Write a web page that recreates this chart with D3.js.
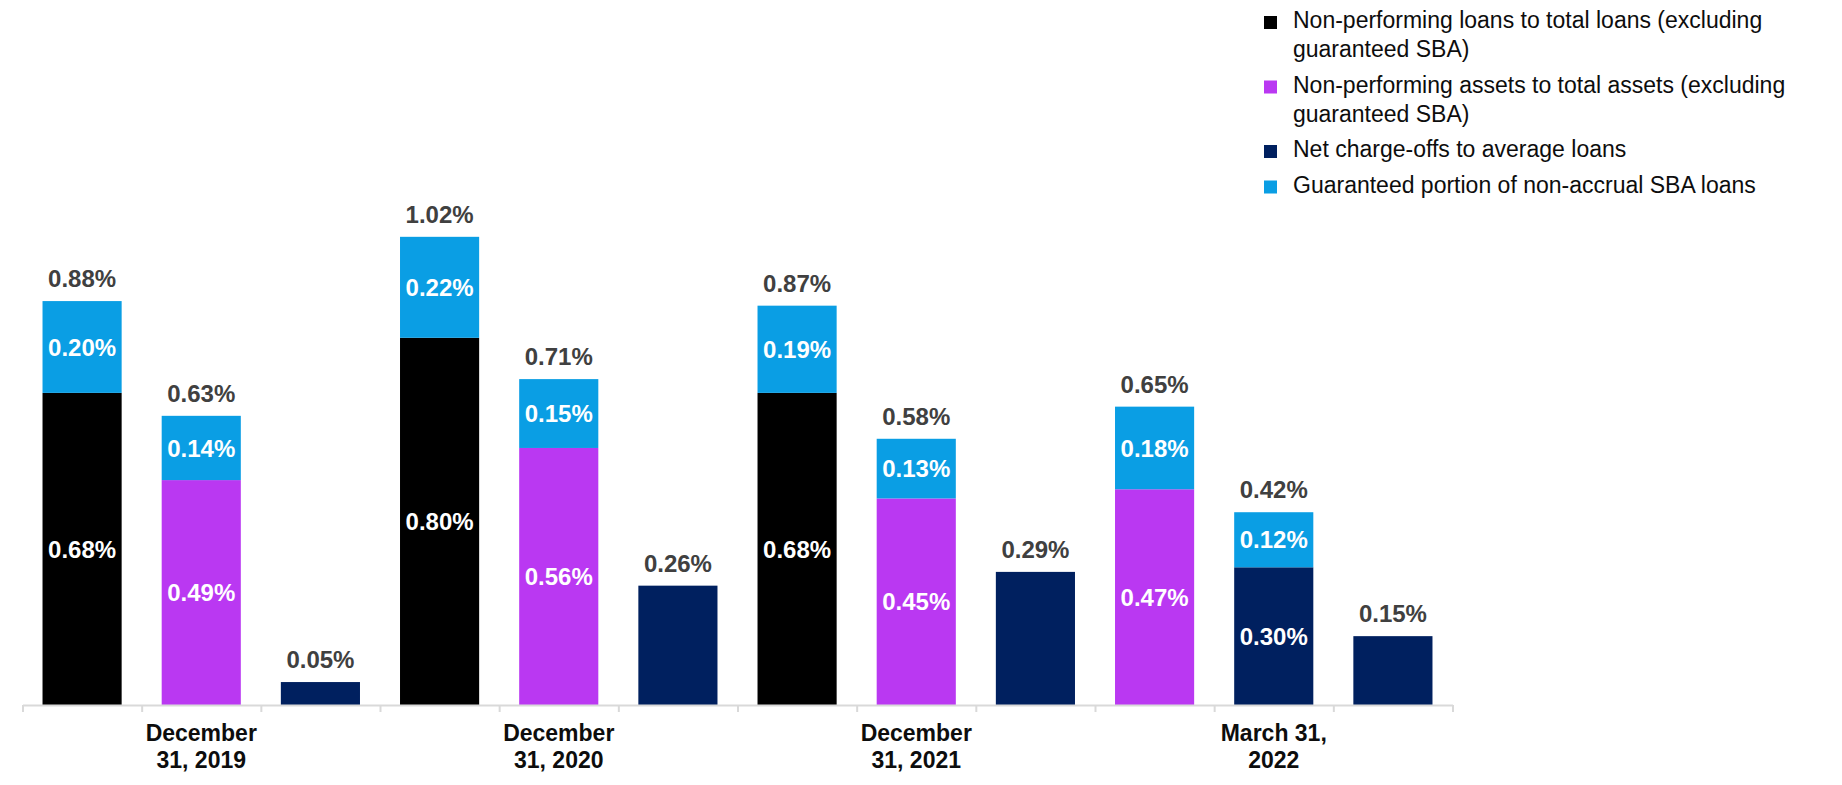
<!DOCTYPE html>
<html>
<head>
<meta charset="utf-8">
<script src="https://cdn.jsdelivr.net/npm/d3@7"></script>
<style>
  html, body { margin: 0; padding: 0; background: #ffffff; }
  svg { display: block; font-family: "Liberation Sans", Arial, Helvetica, sans-serif; }
</style>
</head>
<body>
<svg id="chart" width="1842" height="785"></svg>
<script>
// ---- data ----
const seriesNames = [
  "Non-performing loans to total loans (excluding\nguaranteed SBA)",
  "Non-performing assets to total assets (excluding\nguaranteed SBA)",
  "Net charge-offs to average loans",
  "Guaranteed portion of non-accrual SBA loans"
];
const seriesColors = ["#000000", "#BA38F2", "#00205F", "#0A9EE4"];
const groupLabels = [
  ["December", "31, 2019"],
  ["December", "31, 2020"],
  ["December", "31, 2021"],
  ["March 31,", "2022"]
];
// one entry per bar (3 bars per group)
const baseValues = [0.68, 0.49, 0.05, 0.80, 0.56, 0.26, 0.68, 0.45, 0.29, 0.47, 0.30, 0.15];
const baseSeries = [0, 1, 2, 0, 1, 2, 0, 1, 2, 1, 2, 2];
const sbaValues  = [0.20, 0.14, 0, 0.22, 0.15, 0, 0.19, 0.13, 0, 0.18, 0.12, 0];

// ---- layout ----
const svg = d3.select("#chart");
const axisLeft = 22.5, axisRight = 1452.5, baseY = 705;
const bars = baseValues.map((v, i) => ({ i, base: v, sba: sbaValues[i], s: baseSeries[i] }));

const x = d3.scaleBand().domain(d3.range(bars.length))
  .range([axisLeft, axisRight]).paddingInner(0.336).paddingOuter(0.168);
const slot = d3.scaleLinear().domain([0, bars.length]).range([axisLeft, axisRight]);
const y = d3.scaleLinear().domain([0, 1]).range([baseY, baseY - 459]);

const fmt = v => v.toFixed(2) + "%";
const valueFont = 24;

// segments
const g = svg.append("g");
bars.forEach(b => {
  const x0 = x(b.i), w = x.bandwidth();
  g.append("rect").attr("x", x0).attr("width", w)
    .attr("y", y(b.base)).attr("height", y(0) - y(b.base))
    .attr("fill", seriesColors[b.s]);
  if (b.sba > 0) {
    g.append("rect").attr("x", x0).attr("width", w)
      .attr("y", y(b.base + b.sba)).attr("height", y(b.base) - y(b.base + b.sba))
      .attr("fill", seriesColors[3]);
  }
});

// axis with ticks at slot boundaries
const axis = d3.axisBottom(slot).tickValues(d3.range(bars.length + 1))
  .tickFormat("").tickSize(7).tickSizeOuter(0);
const ax = svg.append("g").attr("transform", `translate(0,${baseY})`).call(axis);
ax.select(".domain").attr("stroke", "#D9D9D9").attr("stroke-width", 2);
ax.selectAll(".tick line").attr("stroke", "#D9D9D9").attr("stroke-width", 2);

// labels
const lbl = svg.append("g").attr("font-weight", "bold").attr("font-size", valueFont)
  .attr("text-anchor", "middle");
bars.forEach(b => {
  const cx = x(b.i) + x.bandwidth() / 2;
  const total = b.base + b.sba;
  lbl.append("text").attr("x", cx).attr("y", y(total) - 14)
    .attr("fill", "#404040").text(fmt(total));
  if (b.sba > 0) {
    lbl.append("text").attr("x", cx)
      .attr("y", (y(b.base) + y(total)) / 2 + valueFont * 0.36)
      .attr("fill", "#ffffff").text(fmt(b.sba));
    lbl.append("text").attr("x", cx)
      .attr("y", (y(0) + y(b.base)) / 2 + valueFont * 0.36)
      .attr("fill", "#ffffff").text(fmt(b.base));
  }
});

// group labels
const gl = svg.append("g").attr("font-weight", "bold").attr("font-size", 23)
  .attr("text-anchor", "middle").attr("fill", "#0d0d0d");
groupLabels.forEach((lines, k) => {
  const cx = x(k * 3 + 1) + x.bandwidth() / 2;
  lines.forEach((t, j) => {
    gl.append("text").attr("x", cx).attr("y", 741 + j * 27).text(t);
  });
});

// legend
const lg = svg.append("g").attr("font-size", 23).attr("fill", "#0d0d0d");
let by = 28;
seriesNames.forEach((name, k) => {
  const lines = name.split("\n");
  lg.append("rect").attr("x", 1264).attr("y", by - 12).attr("width", 13).attr("height", 13)
    .attr("fill", seriesColors[k]);
  lines.forEach((t, j) => {
    lg.append("text").attr("x", 1293).attr("y", by + j * 29).text(t);
  });
  by += (lines.length - 1) * 29 + 35.5;
});
</script>
</body>
</html>
